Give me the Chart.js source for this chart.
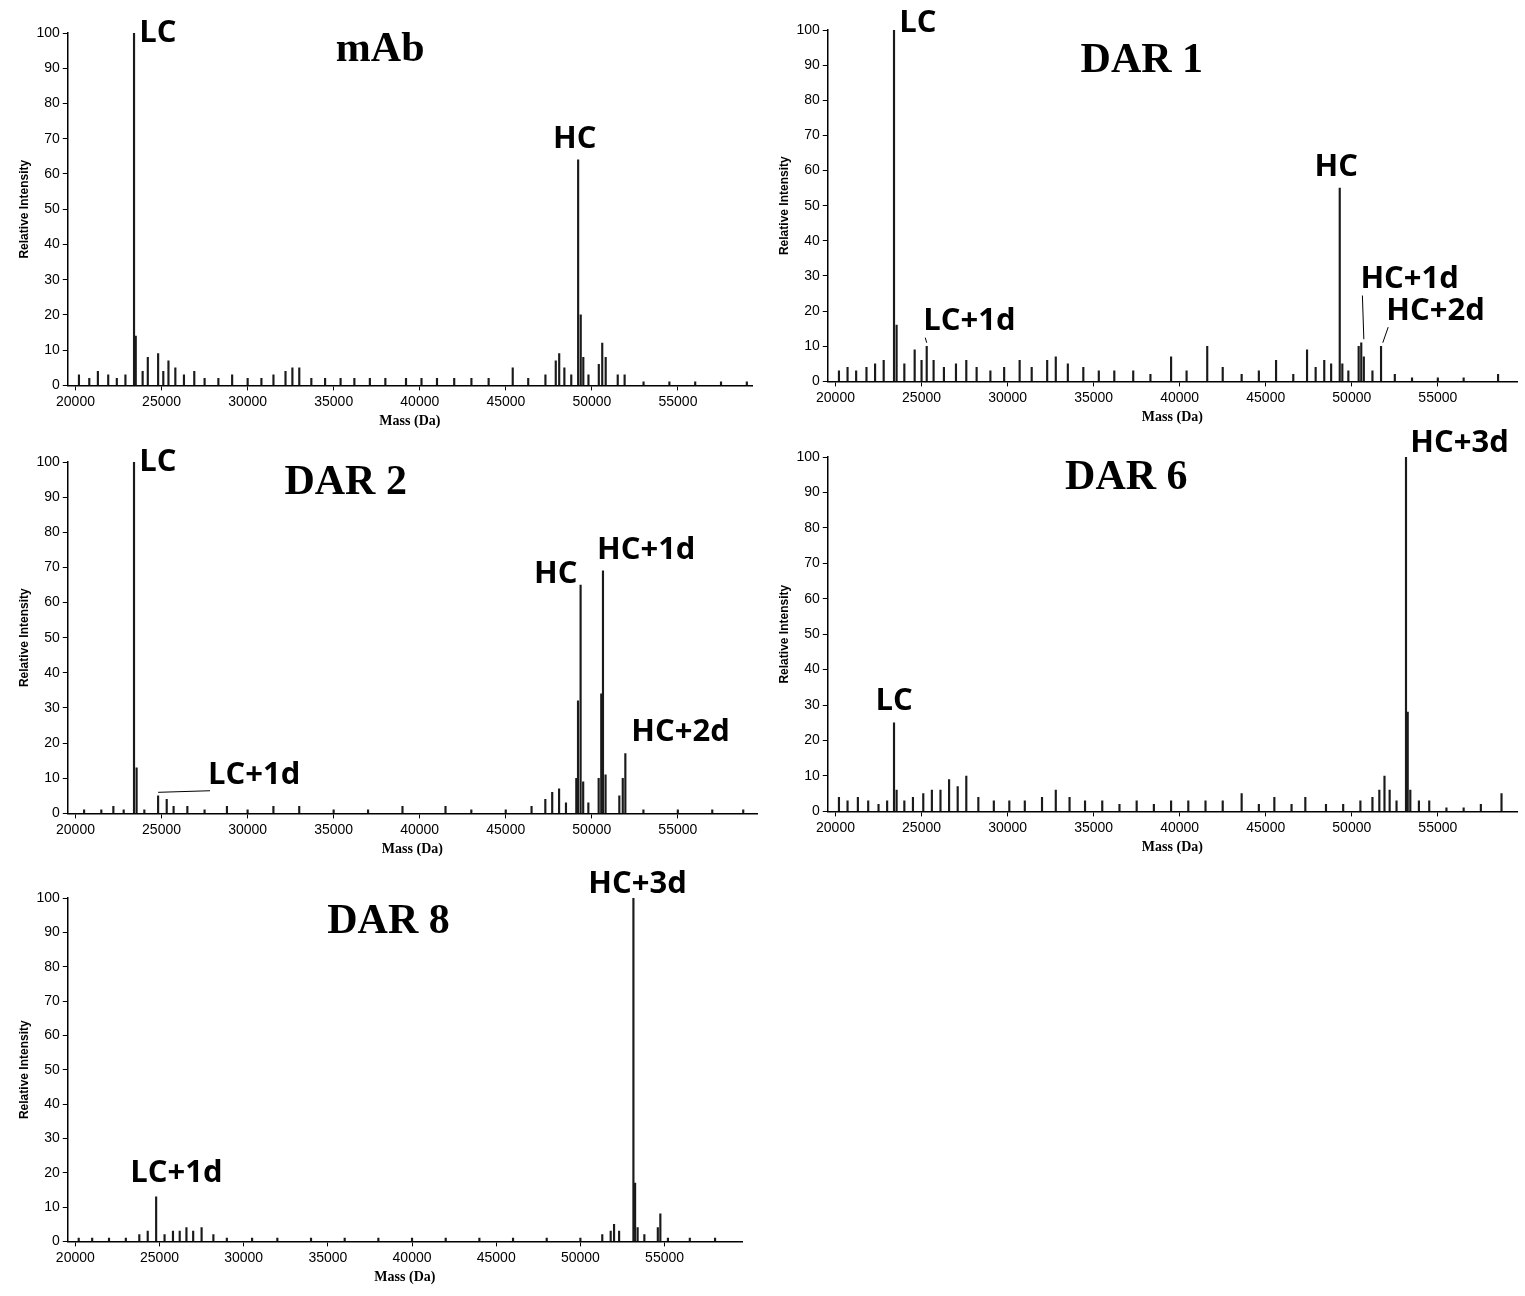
<!DOCTYPE html>
<html>
<head>
<meta charset="utf-8">
<script src="https://cdn.jsdelivr.net/npm/chart.js@4"></script>
<style>
  body { margin: 0; background: #fff; width: 1525px; height: 1296px; position: relative; overflow: hidden; }
  .panel { position: absolute; }
</style>
</head>
<body>
<div class="panel" style="left:0;top:-7px;width:760px;height:437px"><canvas id="c1"></canvas></div>
<div class="panel" style="left:760px;top:-10px;width:765px;height:436px"><canvas id="c2"></canvas></div>
<div class="panel" style="left:0;top:422px;width:765px;height:436px"><canvas id="c3"></canvas></div>
<div class="panel" style="left:760px;top:417px;width:765px;height:439px"><canvas id="c4"></canvas></div>
<div class="panel" style="left:0;top:858px;width:750px;height:428px"><canvas id="c5"></canvas></div>
<script>
// ticks de l'axe x
const massTicks = [20000, 25000, 30000, 35000, 40000, 45000, 50000, 55000];

// mAb
const mabMass = [20200, 20800, 21300, 21900, 22400, 22900, 23400, 23500, 23900, 24200, 24800, 25100, 25400, 25800, 26300, 26900, 27500, 28300, 29100, 30000, 30800, 31500, 32200, 32600, 33000, 33700, 34500, 35400, 36200, 37100, 38000, 39200, 40100, 41000, 42000, 43000, 44000, 45400, 46300, 47300, 47900, 48100, 48400, 48800, 49200, 49350, 49500, 49800, 50400, 50600, 50800, 51500, 51900, 53000, 54500, 56000, 57500, 59000];
const mabInt  = [3, 2, 4, 3, 2, 3, 100, 14, 4, 8, 9, 4, 7, 5, 3, 4, 2, 2, 3, 2, 2, 3, 4, 5, 5, 2, 2, 2, 2, 2, 2, 2, 2, 2, 2, 2, 2, 5, 2, 3, 7, 9, 5, 3, 64, 20, 8, 3, 6, 12, 8, 3, 3, 1, 1, 1, 1, 1];

// DAR 1
const dar1Mass = [20200, 20700, 21200, 21800, 22300, 22800, 23400, 23550, 24000, 24600, 25000, 25300, 25700, 26300, 27000, 27600, 28200, 29000, 29800, 30700, 31400, 32300, 32800, 33500, 34400, 35300, 36200, 37300, 38300, 39500, 40400, 41600, 42500, 43600, 44600, 45600, 46600, 47400, 47900, 48400, 48800, 49300, 49450, 49800, 50400, 50550, 50700, 51200, 51700, 52500, 53500, 55000, 56500, 58500];
const dar1Int  = [3, 4, 3, 4, 5, 6, 100, 16, 5, 9, 6, 10, 6, 4, 5, 6, 4, 3, 4, 6, 4, 6, 7, 5, 4, 3, 3, 3, 2, 7, 3, 10, 4, 2, 3, 6, 2, 9, 4, 6, 5, 55, 5, 3, 10, 11, 7, 3, 10, 2, 1, 1, 1, 2];

// DAR 2
const dar2Mass = [20500, 21500, 22200, 22800, 23400, 23550, 24000, 24800, 25300, 25700, 26500, 27500, 28800, 30000, 31500, 33000, 35000, 37000, 39000, 41500, 43000, 45000, 46500, 47300, 47700, 48100, 48500, 49100, 49200, 49350, 49500, 49800, 50400, 50550, 50650, 50800, 51600, 51800, 51950, 53000, 55000, 57000, 58800];
const dar2Int  = [1, 1, 2, 1, 100, 13, 1, 5, 4, 2, 2, 1, 2, 1, 2, 2, 1, 1, 2, 2, 1, 1, 2, 4, 6, 7, 3, 10, 32, 65, 9, 3, 10, 34, 69, 11, 5, 10, 17, 1, 1, 1, 1];

// DAR 6
const dar6Mass = [20200, 20700, 21300, 21900, 22500, 23000, 23400, 23550, 24000, 24500, 25100, 25600, 26100, 26600, 27100, 27600, 28300, 29200, 30100, 31000, 32000, 32800, 33600, 34500, 35500, 36500, 37500, 38500, 39500, 40500, 41500, 42500, 43600, 44600, 45500, 46500, 47300, 48500, 49500, 50500, 51200, 51600, 51900, 52200, 52600, 53150, 53250, 53400, 53900, 54500, 55500, 56500, 57500, 58700];
const dar6Int  = [4, 3, 4, 3, 2, 3, 25, 6, 3, 4, 5, 6, 6, 9, 7, 10, 4, 3, 3, 3, 4, 6, 4, 3, 3, 2, 3, 2, 3, 3, 3, 3, 5, 2, 4, 2, 4, 2, 2, 3, 4, 6, 10, 6, 3, 100, 28, 6, 3, 3, 1, 1, 2, 5];

// DAR 8
const dar8Mass = [20200, 21000, 22000, 23000, 23800, 24300, 24800, 25300, 25800, 26200, 26600, 27000, 27500, 28200, 29000, 30500, 32000, 34000, 36000, 38000, 40000, 42000, 44000, 46000, 48000, 50000, 51300, 51800, 52000, 52300, 53150, 53250, 53400, 53800, 54600, 54750, 55200, 56500, 58000];
const dar8Int  = [1, 1, 1, 1, 2, 3, 13, 2, 3, 3, 4, 3, 4, 2, 1, 1, 1, 1, 1, 1, 1, 1, 1, 1, 1, 1, 2, 3, 5, 3, 100, 17, 4, 2, 4, 8, 1, 1, 1];

const panels = [
  { id: 'c1', title: 'mAb', titleAt: [37700, 95], mass: mabMass, inten: mabInt, max: 59300,
    labels: [['LC', 23700, 100], ['HC', 49000, 70, 'center']] },
  { id: 'c2', title: 'DAR 1', titleAt: [37800, 91], mass: dar1Mass, inten: dar1Int, max: 59600,
    labels: [['LC', 23700, 102], ['HC', 49100, 61, 'center'], ['LC+1d', 25100, 17, 'left', [25300, 11]],
             ['HC+1d', 50500, 29, 'left', [50700, 12]], ['HC+2d', 52000, 20, 'left', [51800, 11]]] },
  { id: 'c3', title: 'DAR 2', titleAt: [35700, 94], mass: dar2Mass, inten: dar2Int, max: 59600,
    labels: [['LC', 23700, 100], ['HC', 47900, 68, 'center'], ['HC+1d', 50300, 75, 'left'],
             ['HC+2d', 52300, 23, 'left'], ['LC+1d', 27700, 11, 'left', [24800, 6]]] },
  { id: 'c4', title: 'DAR 6', titleAt: [36900, 94], mass: dar6Mass, inten: dar6Int, max: 59600,
    labels: [['LC', 23400, 31, 'center'], ['HC+3d', 53400, 104, 'left']] },
  { id: 'c5', title: 'DAR 8', titleAt: [38600, 93], mass: dar8Mass, inten: dar8Int, max: 59600,
    labels: [['LC+1d', 26000, 20, 'center'], ['HC+3d', 53400, 104, 'center']] }
];

// plugin pour écrire les étiquettes et le titre dans le graphique
const labelPlugin = {
  id: 'peakLabels',
  afterDatasetsDraw(chart) {
    const p = chart.options.plugins.peakLabels;
    const ctx = chart.ctx, sx = chart.scales.x, sy = chart.scales.y;
    ctx.save();
    ctx.fillStyle = '#000';
    ctx.strokeStyle = '#000';
    ctx.lineWidth = 1;
    ctx.font = 'bold 42px "Liberation Serif"';
    ctx.textAlign = 'center';
    ctx.textBaseline = 'middle';
    ctx.fillText(p.title, sx.getPixelForValue(p.titleAt[0]), sy.getPixelForValue(p.titleAt[1]));
    ctx.font = 'bold 31px "Open Sans"';
    p.labels.forEach(l => {
      const x = sx.getPixelForValue(l[1]), y = sy.getPixelForValue(l[2]);
      ctx.textAlign = l[3] || 'left';
      ctx.fillText(l[0], x, y);
      if (l[4]) {
        ctx.beginPath();
        ctx.moveTo(x + (l[3] === 'left' ? 2 : 0), y + 16);
        ctx.lineTo(sx.getPixelForValue(l[4][0]), sy.getPixelForValue(l[4][1]));
        ctx.stroke();
      }
    });
    ctx.restore();
  }
};

panels.forEach(p => {
  new Chart(document.getElementById(p.id), {
    type: 'bar',
    data: {
      datasets: [{
        data: p.mass.map((m, i) => ({ x: m, y: p.inten[i] })),
        backgroundColor: '#1a1a1a',
        barThickness: 1.5
      }]
    },
    options: {
      responsive: true,
      maintainAspectRatio: false,
      animation: false,
      layout: { padding: { top: 40, right: 8, left: 15 } },
      plugins: {
        legend: { display: false },
        tooltip: { enabled: false },
        peakLabels: { title: p.title, titleAt: p.titleAt, labels: p.labels }
      },
      scales: {
        x: {
          type: 'linear', min: 19550, max: p.max, offset: false,
          afterBuildTicks: axis => { axis.ticks = massTicks.map(v => ({ value: v })); },
          ticks: { color: '#000', font: { size: 14 }, maxRotation: 0, callback: v => String(v) },
          grid: { drawOnChartArea: false, offset: false, color: '#000', tickLength: 5 },
          border: { color: '#000', width: 1.5 },
          title: { display: true, text: 'Mass (Da)', color: '#000', padding: 0,
                   font: { family: 'Liberation Serif', weight: 'bold', size: 14 } }
        },
        y: {
          min: 0, max: 100,
          ticks: { stepSize: 10, color: '#000', font: { size: 14 } },
          grid: { drawOnChartArea: false, color: '#000', tickLength: 5 },
          border: { color: '#000', width: 1.5 },
          title: { display: true, text: 'Relative Intensity', color: '#000', padding: 2,
                   font: { family: 'Liberation Sans', weight: 'bold', size: 12 } }
        }
      }
    },
    plugins: [labelPlugin]
  });
});
</script>
</body>
</html>
